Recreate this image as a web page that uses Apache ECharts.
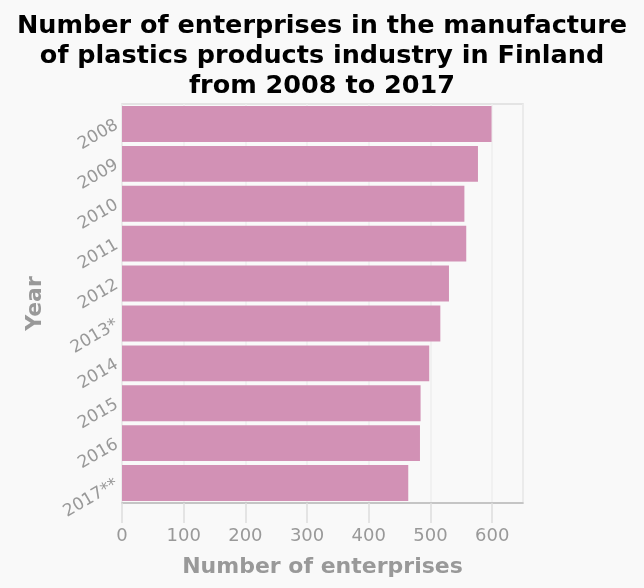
<!DOCTYPE html>
<html lang="en">
<head>
    <meta charset="UTF-8">
    <title>Enterprises in plastics products manufacture, Finland</title>
    <script src="https://cdn.jsdelivr.net/npm/echarts@6/dist/echarts.min.js"></script>
    <style>
        html, body { margin: 0; padding: 0; background: #f9f9f9; }
        #chart { width: 644px; height: 588px; }
    </style>
</head>
<body>
    <div id="chart"></div>
    <script>
        // data
        const years = ['2008', '2009', '2010', '2011', '2012', '2013*', '2014', '2015', '2016', '2017**'];
        const enterprises = [599, 577, 555, 558, 530, 516, 498, 484, 483, 464];
        const xTicks = [0, 100, 200, 300, 400, 500, 600];

        const chart = echarts.init(document.getElementById('chart'));
        const gray = '#999';

        chart.setOption({
            backgroundColor: '#f9f9f9',
            title: {
                text: 'Number of enterprises in the manufacture\nof plastics products industry in Finland\nfrom 2008 to 2017',
                left: 'center',
                top: 6,
                textStyle: {
                    fontFamily: 'DejaVu Sans',
                    fontWeight: 'bold',
                    fontSize: 25.5,
                    lineHeight: 30,
                    color: '#000'
                }
            },
            grid: {
                left: 122, right: 121, top: 104, bottom: 85,
                show: true,
                backgroundColor: 'transparent',
                borderColor: '#dddddd',
                borderWidth: 1.5
            },
            xAxis: {
                type: 'value',
                min: 0,
                max: 650,
                interval: 100,
                name: 'Number of enterprises',
                nameLocation: 'middle',
                nameGap: 53,
                nameTextStyle: { fontFamily: 'DejaVu Sans', fontWeight: 'bold', fontSize: 22, color: gray },
                axisLine: { show: true, lineStyle: { color: '#bbbbbb', width: 1.5 } },
                axisTick: { show: true, length: 20, lineStyle: { color: '#dddddd', width: 1.5 } },
                axisLabel: {
                    margin: 24,
                    fontFamily: 'DejaVu Sans',
                    fontSize: 18,
                    color: gray,
                    showMaxLabel: false,
                    formatter: v => xTicks.includes(v) ? String(v) : ''
                },
                splitLine: { show: true, lineStyle: { color: '#eeeeee', width: 1.5 } }
            },
            yAxis: {
                type: 'category',
                data: years,
                inverse: true,
                name: 'Year',
                nameLocation: 'middle',
                nameGap: 76,
                nameRotate: 90,
                nameTextStyle: { fontFamily: 'DejaVu Sans', fontWeight: 'bold', fontSize: 22, color: gray },
                axisLine: { show: false },
                axisTick: { show: false },
                axisLabel: {
                    rotate: 30,
                    margin: 5,
                    fontFamily: 'DejaVu Sans',
                    fontSize: 17,
                    color: gray
                }
            },
            series: [{
                type: 'bar',
                data: enterprises,
                barCategoryGap: '10%',
                itemStyle: { color: '#d291b5' },
                silent: true
            }],
            animation: false
        });
    </script>
</body>
</html>
